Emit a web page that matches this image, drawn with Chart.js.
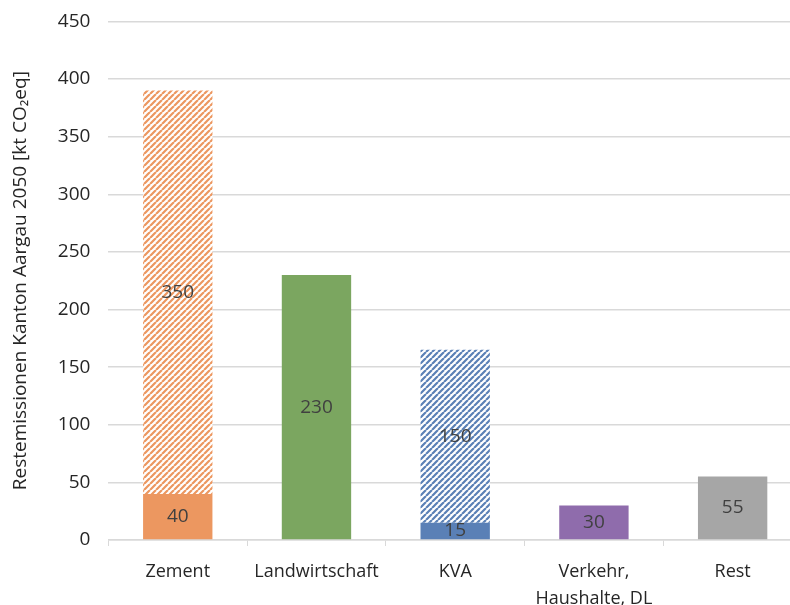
<!DOCTYPE html>
<html>
<head>
<meta charset="utf-8">
<script src="https://cdn.jsdelivr.net/npm/chart.js@4"></script>
<style>
  body{margin:0;overflow:hidden;background:#fff;}
  #wrap{width:802px;height:634px;margin-top:-8px;}
</style>
</head>
<body>
<div id="wrap"><canvas id="chart" width="802" height="634"></canvas></div>
<script>
const categories=["Zement","Landwirtschaft","KVA",["Verkehr,","Haushalte, DL"],"Rest"];
const baseValues=[40,230,15,30,55];
const hatchedValues=[350,null,150,null,null];
const yTicks=[0,50,100,150,200,250,300,350,400,450];
const colors=["rgb(236,151,96)","rgb(123,166,96)","rgb(90,128,182)","rgb(143,108,172)","rgb(166,166,166)"];

const makeHatch=(color)=>{
    let c=document.createElement('canvas');
    c.width=6;c.height=6;
    let g=c.getContext('2d');
    g.fillStyle='#fff';
    g.fillRect(0,0,6,6);
    g.strokeStyle=color;
    g.lineWidth=2.2;
    g.beginPath();
    for(let k=-1;k<=1;k++){
        g.moveTo(k*6,6);
        g.lineTo(k*6+6,0);
    }
    g.stroke();
    return g.createPattern(c,'repeat');
}

const ctx=document.getElementById('chart').getContext('2d');
const hatchColors=colors.map(c=>makeHatch(c));

const valueLabels={
    id:'valueLabels',
    afterDatasetsDraw:(chart)=>{
        let g=chart.ctx;
        g.save();
        g.font='19px "Open Sans", sans-serif';
        g.fillStyle='#404040';
        g.textAlign='center';
        g.textBaseline='middle';
        chart.data.datasets.forEach((ds,i)=>{
            chart.getDatasetMeta(i).data.forEach((bar,j)=>{
                let v=ds.data[j];
                if(v==null) return;
                g.fillText(String(v),bar.x,(bar.y+bar.base)/2);
            });
        });
        g.restore();
    }
};

new Chart(ctx,{
    type:'bar',
    data:{
        labels:categories,
        datasets:[
            {label:'Basis',data:baseValues,backgroundColor:colors,stack:'s'},
            {label:'Schraffiert',data:hatchedValues,backgroundColor:hatchColors,stack:'s'}
        ]
    },
    options:{
        responsive:false,
        animation:false,
        layout:{padding:{top:2,left:5,right:0,bottom:2}},
        categoryPercentage:1,
        barPercentage:0.5,
        plugins:{legend:{display:false},tooltip:{enabled:false}},
        scales:{
            x:{
                stacked:true,
                grid:{drawOnChartArea:false,color:'#d9d9d9',tickLength:6,offset:true},
                border:{color:'#d9d9d9',width:1.5},
                ticks:{color:'#262626',font:{family:'"Open Sans", sans-serif',size:18,lineHeight:1.5},padding:12,maxRotation:0,autoSkip:false}
            },
            y:{
                stacked:true,
                min:0,max:450,
                afterBuildTicks:(axis)=>{axis.ticks=yTicks.map(v=>({value:v}));},
                grid:{color:'#d9d9d9',lineWidth:1.5,drawTicks:false},
                border:{display:false},
                ticks:{color:'#262626',font:{family:'"Open Sans", sans-serif',size:19},padding:18},
                title:{display:true,text:'Restemissionen Kanton Aargau 2050 [kt CO₂eq]',color:'#262626',font:{family:'"Open Sans", sans-serif',size:19},padding:{bottom:8}}
            }
        }
    },
    plugins:[valueLabels]
});
</script>
</body>
</html>
